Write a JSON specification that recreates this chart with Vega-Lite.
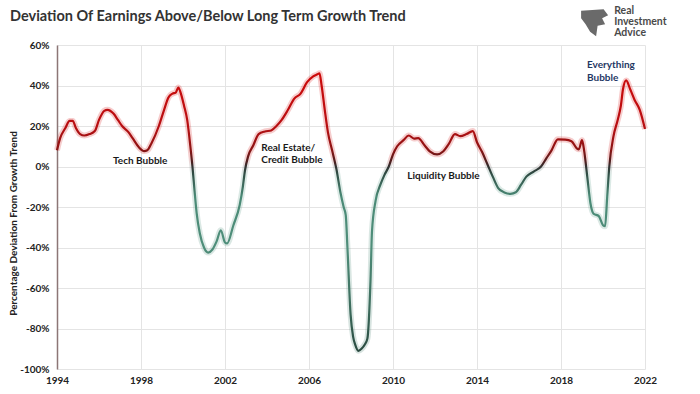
{
  "$schema": "https://vega.github.io/schema/vega-lite/v6.json",
  "width": 588,
  "height": 324,
  "autosize": {"type": "none"},
  "padding": {"left": 57, "top": 45, "right": 55, "bottom": 25},
  "background": "white",
  "title": {
    "text": "Deviation Of Earnings Above/Below Long Term Growth Trend",
    "anchor": "start",
    "frame": "group",
    "dx": -47,
    "offset": 0,
    "dy": 18,
    "font": "Lato",
    "fontSize": 14.5,
    "fontWeight": "bold",
    "color": "#333333"
  },
  "config": {
    "view": {"stroke": null},
    "font": "Lato",
    "axis": {
      "gridColor": "#e4e4e4",
      "gridWidth": 1,
      "ticks": false,
      "labelFont": "Lato",
      "labelFontSize": 10,
      "labelFontWeight": "bold",
      "labelColor": "#222222",
      "titleFont": "Lato",
      "titleColor": "#222222"
    }
  },
  "datasets": {
    "series": [
      {"year": 1994.0, "dev": 8},
      {"year": 1994.15, "dev": 14},
      {"year": 1994.4, "dev": 19},
      {"year": 1994.6, "dev": 22.5},
      {"year": 1994.75, "dev": 22.5},
      {"year": 1994.9, "dev": 19},
      {"year": 1995.1, "dev": 16},
      {"year": 1995.3, "dev": 15.3},
      {"year": 1995.55, "dev": 16},
      {"year": 1995.8, "dev": 17.5},
      {"year": 1996.0, "dev": 23},
      {"year": 1996.25, "dev": 27.5},
      {"year": 1996.4, "dev": 28},
      {"year": 1996.7, "dev": 26},
      {"year": 1996.9, "dev": 23},
      {"year": 1997.1, "dev": 20},
      {"year": 1997.4, "dev": 17},
      {"year": 1997.6, "dev": 14},
      {"year": 1997.9, "dev": 9.5},
      {"year": 1998.15, "dev": 7.6},
      {"year": 1998.3, "dev": 8},
      {"year": 1998.5, "dev": 11.5},
      {"year": 1998.85, "dev": 20},
      {"year": 1999.1, "dev": 28},
      {"year": 1999.3, "dev": 34},
      {"year": 1999.5, "dev": 36},
      {"year": 1999.65, "dev": 36.5},
      {"year": 1999.78, "dev": 39},
      {"year": 1999.9, "dev": 36},
      {"year": 2000.05, "dev": 30},
      {"year": 2000.2, "dev": 23},
      {"year": 2000.35, "dev": 10},
      {"year": 2000.45, "dev": 0},
      {"year": 2000.55, "dev": -12},
      {"year": 2000.65, "dev": -23},
      {"year": 2000.8, "dev": -33},
      {"year": 2001.0, "dev": -40},
      {"year": 2001.2, "dev": -42.5},
      {"year": 2001.4, "dev": -41},
      {"year": 2001.6, "dev": -37},
      {"year": 2001.8, "dev": -31.5},
      {"year": 2002.0, "dev": -37.5},
      {"year": 2002.1, "dev": -38},
      {"year": 2002.4, "dev": -29},
      {"year": 2002.7, "dev": -19},
      {"year": 2002.85, "dev": -10},
      {"year": 2002.95, "dev": -2},
      {"year": 2003.1, "dev": 5},
      {"year": 2003.35, "dev": 10.5},
      {"year": 2003.6, "dev": 16},
      {"year": 2003.9, "dev": 17.3},
      {"year": 2004.2, "dev": 17.8},
      {"year": 2004.45, "dev": 20},
      {"year": 2004.7, "dev": 23},
      {"year": 2005.0, "dev": 28},
      {"year": 2005.3, "dev": 33.5},
      {"year": 2005.6, "dev": 36},
      {"year": 2005.9, "dev": 41.5},
      {"year": 2006.2, "dev": 44.5},
      {"year": 2006.4, "dev": 45.5},
      {"year": 2006.5, "dev": 46},
      {"year": 2006.6, "dev": 40},
      {"year": 2006.75, "dev": 28},
      {"year": 2006.9, "dev": 17},
      {"year": 2007.1, "dev": 8},
      {"year": 2007.3, "dev": -1},
      {"year": 2007.5, "dev": -13},
      {"year": 2007.65, "dev": -20},
      {"year": 2007.75, "dev": -24},
      {"year": 2007.83, "dev": -40},
      {"year": 2007.98, "dev": -73},
      {"year": 2008.1, "dev": -84},
      {"year": 2008.2, "dev": -88},
      {"year": 2008.35, "dev": -91},
      {"year": 2008.5, "dev": -90},
      {"year": 2008.65, "dev": -88},
      {"year": 2008.78, "dev": -85},
      {"year": 2008.93, "dev": -56},
      {"year": 2009.0, "dev": -32},
      {"year": 2009.17, "dev": -17},
      {"year": 2009.4, "dev": -9},
      {"year": 2009.6, "dev": -4},
      {"year": 2009.8, "dev": 0},
      {"year": 2010.0, "dev": 6},
      {"year": 2010.2, "dev": 10},
      {"year": 2010.5, "dev": 13},
      {"year": 2010.75, "dev": 15.3},
      {"year": 2011.0, "dev": 13.8},
      {"year": 2011.2, "dev": 14},
      {"year": 2011.5, "dev": 10.5},
      {"year": 2011.75, "dev": 7.5},
      {"year": 2012.1, "dev": 6},
      {"year": 2012.4, "dev": 7.5},
      {"year": 2012.65, "dev": 11},
      {"year": 2012.95, "dev": 16},
      {"year": 2013.2, "dev": 15},
      {"year": 2013.5, "dev": 16},
      {"year": 2013.8, "dev": 17.5},
      {"year": 2014.0, "dev": 12},
      {"year": 2014.25, "dev": 7},
      {"year": 2014.5, "dev": 1},
      {"year": 2014.75, "dev": -5},
      {"year": 2015.0, "dev": -10.5},
      {"year": 2015.3, "dev": -12.8},
      {"year": 2015.6, "dev": -13.5},
      {"year": 2015.85, "dev": -12.7},
      {"year": 2016.1, "dev": -9},
      {"year": 2016.35, "dev": -5},
      {"year": 2016.7, "dev": -2.5},
      {"year": 2017.05, "dev": 0},
      {"year": 2017.3, "dev": 4},
      {"year": 2017.55, "dev": 8},
      {"year": 2017.85, "dev": 13.4},
      {"year": 2018.2, "dev": 13.3},
      {"year": 2018.5, "dev": 12.5},
      {"year": 2018.75, "dev": 9},
      {"year": 2018.85, "dev": 8.5},
      {"year": 2019.0, "dev": 13},
      {"year": 2019.1, "dev": 8},
      {"year": 2019.25, "dev": -5},
      {"year": 2019.4, "dev": -18},
      {"year": 2019.55, "dev": -23.3},
      {"year": 2019.8, "dev": -24.5},
      {"year": 2020.0, "dev": -29},
      {"year": 2020.1, "dev": -29.5},
      {"year": 2020.2, "dev": -15},
      {"year": 2020.3, "dev": 0},
      {"year": 2020.5, "dev": 15},
      {"year": 2020.7, "dev": 23},
      {"year": 2020.85, "dev": 30},
      {"year": 2020.95, "dev": 38},
      {"year": 2021.1, "dev": 42.5},
      {"year": 2021.3, "dev": 38},
      {"year": 2021.5, "dev": 33},
      {"year": 2021.75, "dev": 28},
      {"year": 2022.0, "dev": 18.5}
    ],
    "notes": [
      {"label": "Tech Bubble", "year": 1996.67, "dev": 2.5, "kind": "dark"},
      {"label": "Real Estate/", "year": 2003.73, "dev": 9.2, "kind": "dark"},
      {"label": "Credit Bubble", "year": 2003.73, "dev": 3.4, "kind": "dark"},
      {"label": "Liquidity Bubble", "year": 2010.68, "dev": -4.5, "kind": "dark"},
      {"label": "Everything", "year": 2019.24, "dev": 50, "kind": "navy"},
      {"label": "Bubble", "year": 2019.24, "dev": 43.6, "kind": "navy"}
    ],
    "logo": [
      {"label": "Real", "year": 2020.53, "dev": 76.6},
      {"label": "Investment", "year": 2020.53, "dev": 71.3},
      {"label": "Advice", "year": 2020.53, "dev": 66}
    ],
    "emblem": [
      {"year": 2019.6, "dev": 71}
    ]
  },
  "encoding": {
    "x": {
      "field": "year",
      "type": "quantitative",
      "scale": {"domain": [1994, 2022], "nice": false, "zero": false},
      "axis": {
        "title": null,
        "values": [1994, 1998, 2002, 2006, 2010, 2014, 2018, 2022],
        "format": "d",
        "domain": false,
        "labelFlush": false,
        "labelPadding": 6
      }
    },
    "y": {
      "field": "dev",
      "type": "quantitative",
      "scale": {"domain": [-100, 60], "nice": false, "zero": false},
      "axis": {
        "title": "Percentage Deviation From Growth Trend",
        "titleFontSize": 10,
        "titleFontWeight": "bold",
        "titlePadding": 1,
        "titleY": 178,
        "values": [-100, -80, -60, -40, -20, 0, 20, 40, 60],
        "labelExpr": "datum.value + '%'",
        "labelPadding": 8,
        "labelFlush": false,
        "domain": true,
        "domainColor": "#8c7676",
        "domainWidth": 1.5
      }
    }
  },
  "layer": [
    {
      "mark": {"type": "rule", "color": "#222222", "strokeDash": [4, 3], "strokeWidth": 1.2},
      "encoding": {"y": {"datum": 0}, "x": null}
    },
    {
      "data": {"name": "series"},
      "mark": {
        "type": "line",
        "interpolate": "monotone",
        "strokeWidth": 6,
        "opacity": 0.22,
        "stroke": {
          "gradient": "linear", "x1": 0, "y1": 0, "x2": 0, "y2": 1,
          "stops": [
            {"offset": 0, "color": "#e01010"},
            {"offset": 0.3, "color": "#d02020"},
            {"offset": 0.336, "color": "#777777"},
            {"offset": 0.37, "color": "#5fa08c"},
            {"offset": 1, "color": "#4a8070"}
          ]
        }
      }
    },
    {
      "data": {"name": "series"},
      "mark": {
        "type": "line",
        "interpolate": "monotone",
        "strokeWidth": 2.2,
        "stroke": {
          "gradient": "linear", "x1": 0, "y1": 0, "x2": 0, "y2": 1,
          "stops": [
            {"offset": 0, "color": "#cc0a0a"},
            {"offset": 0.19, "color": "#b80f12"},
            {"offset": 0.277, "color": "#8a1414"},
            {"offset": 0.321, "color": "#4a2020"},
            {"offset": 0.336, "color": "#333333"},
            {"offset": 0.358, "color": "#2f4a42"},
            {"offset": 0.445, "color": "#4a8a76"},
            {"offset": 0.628, "color": "#4f8e7a"},
            {"offset": 0.847, "color": "#3c6b5c"},
            {"offset": 1, "color": "#2a4a40"}
          ]
        }
      }
    },
    {
      "data": {"name": "notes"},
      "mark": {"type": "text", "align": "left", "baseline": "middle", "font": "Lato", "fontSize": 10, "fontWeight": "bold"},
      "encoding": {
        "text": {"field": "label"},
        "color": {
          "field": "kind",
          "type": "nominal",
          "scale": {"domain": ["dark", "navy"], "range": ["#1a1a1a", "#1f3864"]},
          "legend": null
        }
      }
    },
    {
      "data": {"name": "emblem"},
      "mark": {
        "type": "point",
        "filled": true,
        "color": "#6a6a6a",
        "opacity": 1,
        "size": 900,
        "shape": "M -0.9 -0.8 L 0.6 -0.9 L 0.9 -0.5 L 0.5 -0.3 L 0.7 0.1 L 0.2 0.2 L 0.1 0.9 L -0.3 0.6 L -0.6 0.1 L -0.9 -0.3 Z"
      }
    },
    {
      "data": {"name": "logo"},
      "mark": {"type": "text", "align": "left", "baseline": "middle", "font": "Lato", "fontSize": 10.5, "fontWeight": "bold", "color": "#4a4a4a", "clip": false},
      "encoding": {"text": {"field": "label"}}
    }
  ]
}
